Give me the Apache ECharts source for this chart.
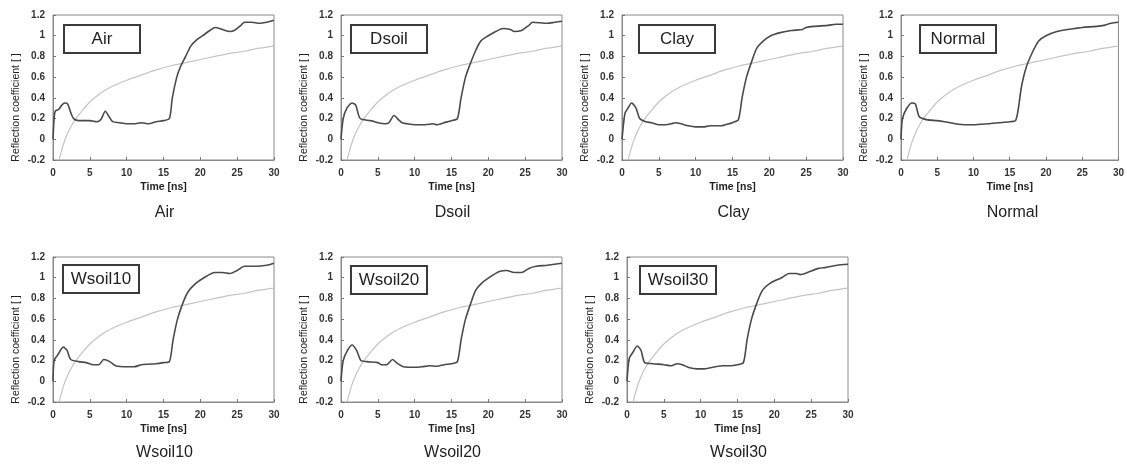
<!DOCTYPE html>
<html><head><meta charset="utf-8">
<script src="https://cdn.jsdelivr.net/npm/echarts@6/dist/echarts.min.js"></script>
<style>html,body{margin:0;padding:0;background:#fff}#c{width:1127px;height:466px}</style>
</head><body><div id="c"></div>
<script>
// ---- data (time [ns], reflection coefficient) ----
const panelNames = ['Air','Dsoil','Clay','Normal','Wsoil10','Wsoil20','Wsoil30'];
const xTicks = [0,5,10,15,20,25,30];
const yTicks = [-0.2,0,0.2,0.4,0.6,0.8,1,1.2];

const refCurve = [[0.85,-0.2],[1,-0.15],[1.5,-0.03],[2,0.06],[2.5,0.13],[3,0.19],[4,0.28],[5,0.36],[6,0.42],[7,0.47],[8,0.51],[10,0.57],[12,0.62],[14,0.67],[16,0.71],[18,0.74],[20,0.77],[22,0.8],[24,0.83],[26,0.85],[28,0.88],[30,0.9]];

const air = [[0,0],[0.15,0.2],[0.3,0.27],[0.8,0.29],[1.2,0.33],[1.6,0.35],[2,0.34],[2.4,0.26],[2.8,0.2],[3.5,0.18],[5,0.18],[6,0.17],[6.5,0.19],[7.1,0.27],[7.6,0.22],[8.1,0.17],[9,0.16],[10,0.15],[11,0.15],[12,0.16],[13,0.15],[14,0.17],[15,0.18],[15.8,0.2],[16.2,0.4],[16.8,0.6],[17.3,0.7],[18,0.8],[18.7,0.9],[19.5,0.96],[20.3,1.0],[21.3,1.05],[22,1.08],[23,1.06],[24,1.04],[24.6,1.05],[25.5,1.1],[26,1.13],[27,1.13],[28,1.12],[29,1.13],[30,1.15]];
const dsoil = [[0,0],[0.3,0.2],[0.8,0.3],[1.5,0.35],[2,0.33],[2.6,0.2],[4,0.18],[5,0.16],[6,0.15],[6.5,0.16],[7.2,0.23],[7.8,0.19],[8.3,0.16],[9,0.15],[10,0.14],[11,0.14],[12,0.145],[12.5,0.15],[13,0.14],[14,0.16],[15,0.18],[15.8,0.2],[16.3,0.4],[16.9,0.6],[17.5,0.72],[18.3,0.86],[19,0.95],[20,1.0],[21,1.04],[22,1.07],[23,1.06],[23.5,1.04],[24.5,1.05],[25.5,1.1],[26,1.13],[28,1.12],[29,1.13],[30,1.14]];
const clay = [[0,0],[0.4,0.25],[0.8,0.3],[1.3,0.35],[1.9,0.3],[2.4,0.2],[3.2,0.17],[4,0.16],[5,0.14],[6,0.14],[6.7,0.15],[7.3,0.16],[8,0.15],[9,0.13],[10,0.12],[11,0.12],[12,0.13],[13.5,0.13],[14,0.14],[15,0.16],[15.8,0.19],[16.3,0.4],[16.9,0.6],[17.6,0.75],[18.3,0.88],[19.2,0.95],[20.2,1.0],[21.5,1.03],[23,1.05],[24.5,1.06],[25,1.08],[26,1.09],[28,1.1],[29,1.11],[30,1.11]];
const normal = [[0,0],[0.2,0.2],[0.8,0.3],[1.5,0.35],[2,0.34],[2.5,0.22],[3.5,0.19],[5,0.18],[6,0.17],[7.5,0.15],[9,0.14],[10,0.14],[12,0.15],[13.5,0.16],[15,0.17],[15.8,0.18],[16.2,0.3],[16.6,0.5],[17.3,0.7],[18.2,0.85],[19,0.95],[20,1.0],[21.5,1.04],[23,1.06],[24,1.07],[25,1.08],[27,1.09],[28,1.1],[29,1.12],[30,1.13]];
const wsoil10 = [[0,0],[0.15,0.2],[0.6,0.25],[1.4,0.33],[1.9,0.3],[2.4,0.21],[3.5,0.19],[4.5,0.18],[5.5,0.16],[6.2,0.16],[6.9,0.21],[7.7,0.19],[8.5,0.15],[10,0.14],[11,0.14],[12,0.16],[13,0.165],[14,0.17],[15,0.18],[15.8,0.19],[16.3,0.4],[16.9,0.6],[17.6,0.75],[18.3,0.86],[19.3,0.94],[20.5,1.0],[22,1.05],[23,1.05],[24,1.04],[25,1.07],[26,1.11],[27.5,1.11],[29,1.12],[30,1.14]];
const wsoil20 = [[0,0],[0.3,0.2],[0.9,0.3],[1.5,0.35],[2.1,0.3],[2.7,0.2],[3.5,0.19],[5,0.18],[5.5,0.16],[6.2,0.16],[7,0.21],[7.7,0.17],[8.5,0.14],[10,0.135],[11,0.14],[12,0.15],[13,0.145],[14,0.16],[15,0.17],[15.8,0.19],[16.3,0.4],[16.9,0.6],[17.6,0.75],[18.3,0.88],[19.3,0.96],[20.5,1.02],[21.5,1.06],[22.5,1.07],[23.5,1.05],[24.5,1.05],[25.5,1.09],[26.5,1.11],[28,1.12],[29,1.13],[30,1.14]];
const wsoil30 = [[0,0],[0.3,0.22],[0.8,0.28],[1.4,0.34],[1.9,0.3],[2.4,0.18],[3.5,0.17],[5,0.16],[6,0.15],[6.8,0.17],[7.5,0.16],[8.5,0.13],[9.5,0.12],[10.5,0.12],[12,0.14],[13,0.15],[14,0.15],[15,0.16],[15.8,0.18],[16.3,0.4],[16.9,0.6],[17.6,0.75],[18.4,0.88],[19.5,0.95],[21,1.0],[22,1.04],[23,1.04],[23.5,1.03],[24.5,1.05],[26,1.09],[27,1.1],[28.5,1.12],[30,1.13]];
const panelData = [air, dsoil, clay, normal, wsoil10, wsoil20, wsoil30];

// ---- layout ----
const layout = [
  {left:53, top:15, box:[64,25]},
  {left:341, top:15, box:[351,25]},
  {left:622, top:15, box:[639,25]},
  {left:901, top:15, box:[920,25]},
  {left:53, top:257, box:[63,265]},
  {left:341, top:257, box:[351,266]},
  {left:627, top:257, box:[640,266]}
];
const W = 221, H = 145;
const FONT = '"Liberation Sans", Arial, sans-serif';

const grids = [], xAxes = [], yAxes = [], series = [], graphics = [];
layout.forEach((L, i) => {
  grids.push({left:L.left, top:L.top, width:W, height:H, show:true, borderColor:'#8a8a8a', borderWidth:1, backgroundColor:'#fff'});
  xAxes.push({
    type:'value', gridIndex:i, min:xTicks[0], max:xTicks[xTicks.length-1], interval:xTicks[1]-xTicks[0],
    name:'Time [ns]', nameLocation:'middle', nameGap:22,
    nameTextStyle:{fontFamily:FONT, fontSize:10.5, color:'#222', fontWeight:'bold'},
    axisLine:{show:true, onZero:false, lineStyle:{color:'#8a8a8a', width:1}},
    axisTick:{show:true, inside:true, length:3, lineStyle:{color:'#777'}},
    axisLabel:{fontFamily:FONT, fontSize:10, color:'#333', margin:8, fontWeight:'bold'},
    splitLine:{show:false}
  });
  yAxes.push({
    type:'value', gridIndex:i, min:yTicks[0], max:yTicks[yTicks.length-1], interval:0.2,
    name:'Reflection coefficient [ ]', nameLocation:'middle', nameGap:31,
    nameTextStyle:{fontFamily:FONT, fontSize:10.5, color:'#222', padding:[0,40,0,0]},
    axisLine:{show:true, onZero:false, lineStyle:{color:'#8a8a8a', width:1}},
    axisTick:{show:true, inside:true, length:3, lineStyle:{color:'#777'}},
    axisLabel:{fontFamily:FONT, fontSize:10, color:'#333', margin:8, fontWeight:'bold',
      formatter: v => String(Math.round(v*10)/10)},
    splitLine:{show:false}
  });
  series.push({type:'line', xAxisIndex:i, yAxisIndex:i, data:refCurve, smooth:0.3, showSymbol:false, silent:true,
    lineStyle:{color:'#c4c4c4', width:1.2}, z:2});
  series.push({type:'line', xAxisIndex:i, yAxisIndex:i, data:panelData[i], smooth:0.25, showSymbol:false, silent:true,
    lineStyle:{color:'#4a4a4a', width:1.6}, z:3});
  // inset label box
  graphics.push({type:'rect', shape:{x:L.box[0], y:L.box[1], width:76, height:28},
    style:{fill:'#fff', stroke:'#3a3a3a', lineWidth:2}, z:100});
  graphics.push({type:'text', x:L.box[0]+38, y:L.box[1]+14,
    style:{text:panelNames[i], fill:'#222', font:'17px ' + FONT, textAlign:'center', textVerticalAlign:'middle'}, z:101});
  // caption
  graphics.push({type:'text', x:L.left + W/2 + 1, y:L.top + (i < 4 ? 198 : 196),
    style:{text:panelNames[i], fill:'#222', font:'16px ' + FONT, textAlign:'center', textVerticalAlign:'middle'}, z:101});
});

const chart = echarts.init(document.getElementById('c'), null, {renderer:'canvas'});
chart.setOption({animation:false, backgroundColor:'#fff', grid:grids, xAxis:xAxes, yAxis:yAxes, series:series, graphic:graphics});
</script></body></html>
